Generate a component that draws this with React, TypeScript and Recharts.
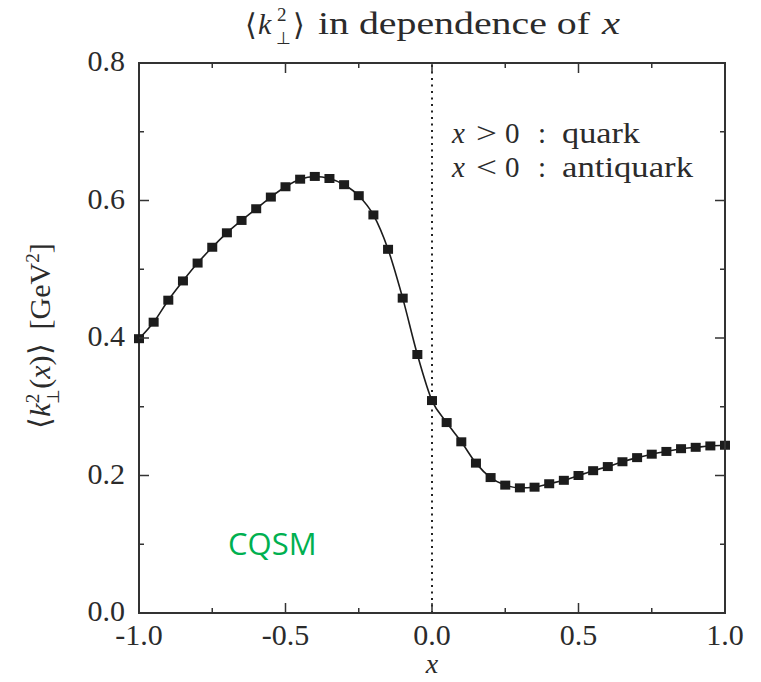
import React from 'react';
import { LineChart, Line, XAxis, YAxis, ReferenceLine, ReferenceArea } from 'recharts';

// x values of the computed points (step 0.05)
const xValues = [
  -1.0, -0.95, -0.9, -0.85, -0.8, -0.75, -0.7, -0.65, -0.6, -0.55, -0.5,
  -0.45, -0.4, -0.35, -0.3, -0.25, -0.2, -0.15, -0.1, -0.05, 0.0,
  0.05, 0.1, 0.15, 0.2, 0.25, 0.3, 0.35, 0.4, 0.45, 0.5,
  0.55, 0.6, 0.65, 0.7, 0.75, 0.8, 0.85, 0.9, 0.95, 1.0,
];

// <k_perp^2(x)> in GeV^2
const kPerpSq = [
  0.399, 0.423, 0.455, 0.483, 0.509, 0.532, 0.553, 0.571, 0.588, 0.605, 0.62,
  0.631, 0.635, 0.632, 0.623, 0.607, 0.579, 0.529, 0.458, 0.376, 0.309,
  0.277, 0.249, 0.218, 0.197, 0.186, 0.182, 0.183, 0.188, 0.193, 0.2,
  0.207, 0.213, 0.22, 0.226, 0.231, 0.235, 0.239, 0.241, 0.243, 0.244,
];

const xTicks = [-1, -0.75, -0.5, -0.25, 0, 0.25, 0.5, 0.75, 1];
const yTicks = [0, 0.1, 0.2, 0.3, 0.4, 0.5, 0.6, 0.7, 0.8];

const data = xValues.map((x, i) => ({ x, k: kPerpSq[i] }));

const W = 761;
const H = 682;
const MARGIN = { top: 63, right: 36, bottom: 0, left: 0 };
const Y_AXIS_W = 139;
const X_AXIS_H = 69;
// plot box
const PLOT_L = MARGIN.left + Y_AXIS_W;
const PLOT_T = MARGIN.top;
const PLOT_W = W - MARGIN.left - MARGIN.right - Y_AXIS_W;
const PLOT_H = H - MARGIN.top - MARGIN.bottom - X_AXIS_H;
const X_DOMAIN = [-1, 1];
const Y_DOMAIN = [0, 0.8];

const ink = '#2b2b2b';
const boxColor = '#333333';
const SERIF = 'Liberation Serif, Times New Roman, Times, serif';

const isMajor = (v: number, step: number) => Math.abs(v / step - Math.round(v / step)) < 1e-6;
const px = (v: number) => PLOT_L + ((v - X_DOMAIN[0]) / (X_DOMAIN[1] - X_DOMAIN[0])) * PLOT_W;
const py = (v: number) => PLOT_T + PLOT_H - ((v - Y_DOMAIN[0]) / (Y_DOMAIN[1] - Y_DOMAIN[0])) * PLOT_H;

function BottomTick(props: any) {
  const { x, y, payload } = props;
  const major = isMajor(payload.value, 0.5);
  return (
    <g>
      <line x1={x} y1={y} x2={x} y2={y - (major ? 10 : 5)} stroke={boxColor} strokeWidth={1.5} />
      {major && (
        <text x={x} y={y + 32} textAnchor="middle" fontFamily={SERIF} fontSize={30} fill={ink}>
          {payload.value.toFixed(1)}
        </text>
      )}
    </g>
  );
}

function LeftTick(props: any) {
  const { x, y, payload } = props;
  const major = isMajor(payload.value, 0.2);
  return (
    <g>
      <line x1={x} y1={y} x2={x + (major ? 10 : 5)} y2={y} stroke={boxColor} strokeWidth={1.5} />
      {major && (
        <text x={x - 14} y={y + 8} textAnchor="end" fontFamily={SERIF} fontSize={30} fill={ink}>
          {payload.value.toFixed(1)}
        </text>
      )}
    </g>
  );
}

function SquareDot(props: any) {
  const { cx, cy, index } = props;
  return <rect key={index} x={cx - 5} y={cy - 4.5} width={10} height={9} fill="#1c1c1c" />;
}

export default function App() {
  const right = PLOT_L + PLOT_W;
  return (
    <div style={{ position: 'absolute', left: 0, top: 0, width: W, height: H, background: '#fff' }}>
      <LineChart width={W} height={H} data={data} margin={MARGIN}>
        <XAxis
          dataKey="x"
          type="number"
          domain={X_DOMAIN}
          ticks={xTicks}
          height={X_AXIS_H}
          tickSize={0}
          tickMargin={0}
          tickLine={false}
          axisLine={{ stroke: boxColor, strokeWidth: 2 }}
          tick={BottomTick}
          interval={0}
        />
        <YAxis
          type="number"
          domain={Y_DOMAIN}
          ticks={yTicks}
          width={Y_AXIS_W}
          tickSize={0}
          tickMargin={0}
          tickLine={false}
          axisLine={{ stroke: boxColor, strokeWidth: 2 }}
          tick={LeftTick}
          interval={0}
        />
        {/* frame */}
        <ReferenceArea
          x1={X_DOMAIN[0]}
          x2={X_DOMAIN[1]}
          y1={Y_DOMAIN[0]}
          y2={Y_DOMAIN[1]}
          fill="none"
          fillOpacity={0}
          stroke={boxColor}
          strokeWidth={2}
          ifOverflow="visible"
        />
        <ReferenceLine x={0} stroke="#222" strokeWidth={2} strokeDasharray="2 4.5" />
        <Line
          type="monotone"
          dataKey="k"
          stroke="#1c1c1c"
          strokeWidth={1.6}
          dot={SquareDot}
          activeDot={false}
          isAnimationActive={false}
        />
      </LineChart>

      <svg width={W} height={H} style={{ position: 'absolute', left: 0, top: 0, pointerEvents: 'none' }}>
        {/* top and right sides of the frame with mirrored ticks */}
        <path d={`M ${PLOT_L} ${PLOT_T} H ${right} V ${PLOT_T + PLOT_H}`} fill="none" stroke={boxColor} strokeWidth={2} />
        {xTicks.map((t) => (
          <path key={'tx' + t} d={`M ${px(t)} ${PLOT_T} V ${PLOT_T + (isMajor(t, 0.5) ? 10 : 5)}`} stroke={boxColor} strokeWidth={1.5} />
        ))}
        {yTicks.map((t) => (
          <path key={'ty' + t} d={`M ${right} ${py(t)} H ${right - (isMajor(t, 0.2) ? 10 : 5)}`} stroke={boxColor} strokeWidth={1.5} />
        ))}

        {/* title */}
        <text x={245} y={35} fontSize={30} fontFamily={SERIF} fill={ink}>⟨</text>
        <text x={258} y={34} fontSize={30} fontFamily={SERIF} fontStyle="italic" fill={ink}>k</text>
        <text x={277} y={21} fontSize={19} fontFamily={SERIF} fill={ink}>2</text>
        <text x={276} y={44} fontSize={17} fontFamily={SERIF} fill={ink}>⊥</text>
        <text x={293} y={35} fontSize={30} fontFamily={SERIF} fill={ink}>⟩</text>
        <text x={318} y={34} fontSize={31} fontFamily={SERIF} fill={ink} textLength={272} lengthAdjust="spacingAndGlyphs">
          in dependence of
        </text>
        <text x={602} y={34} fontSize={31} fontFamily={SERIF} fontStyle="italic" fill={ink} textLength={18} lengthAdjust="spacingAndGlyphs">
          x
        </text>

        {/* legend */}
        <text x={452} y={143} fontSize={29} fontFamily={SERIF} fontStyle="italic" fill={ink}>x</text>
        <text x={476} y={143} fontSize={29} fontFamily={SERIF} fill={ink} textLength={21} lengthAdjust="spacingAndGlyphs">&gt;</text>
        <text x={505} y={143} fontSize={29} fontFamily={SERIF} fill={ink}>0</text>
        <text x={538} y={143} fontSize={29} fontFamily={SERIF} fill={ink}>:</text>
        <text x={562} y={143} fontSize={29} fontFamily={SERIF} fill={ink} textLength={78} lengthAdjust="spacingAndGlyphs">quark</text>
        <text x={452} y={177} fontSize={29} fontFamily={SERIF} fontStyle="italic" fill={ink}>x</text>
        <text x={476} y={177} fontSize={29} fontFamily={SERIF} fill={ink} textLength={21} lengthAdjust="spacingAndGlyphs">&lt;</text>
        <text x={505} y={177} fontSize={29} fontFamily={SERIF} fill={ink}>0</text>
        <text x={538} y={177} fontSize={29} fontFamily={SERIF} fill={ink}>:</text>
        <text x={562} y={177} fontSize={29} fontFamily={SERIF} fill={ink} textLength={131} lengthAdjust="spacingAndGlyphs">antiquark</text>

        {/* y axis label */}
        <g transform="translate(50,336) rotate(-90)">
          <text x={0} y={0} textAnchor="middle" fontSize={30} fontFamily={SERIF} fill={ink}>
            <tspan>⟨</tspan>
            <tspan fontStyle="italic">k</tspan>
            <tspan fontSize={19} dy={-11}>2</tspan>
            <tspan fontSize={17} dx={-10} dy={20}>⊥</tspan>
            <tspan dy={-9}>(</tspan>
            <tspan fontStyle="italic">x</tspan>
            <tspan>)⟩</tspan>
            <tspan dx={14}>[GeV</tspan>
            <tspan fontSize={19} dy={-11}>2</tspan>
            <tspan dy={11}>]</tspan>
          </text>
        </g>

        {/* x axis label */}
        <text x={432} y={673} textAnchor="middle" fontSize={28} fontFamily={SERIF} fontStyle="italic" fill={ink}>
          x
        </text>

        {/* model label */}
        <text x={228} y={555} fontSize={31} fill="#00B050" fontFamily="Open Sans, Noto Sans, sans-serif">
          CQSM
        </text>
      </svg>
    </div>
  );
}
